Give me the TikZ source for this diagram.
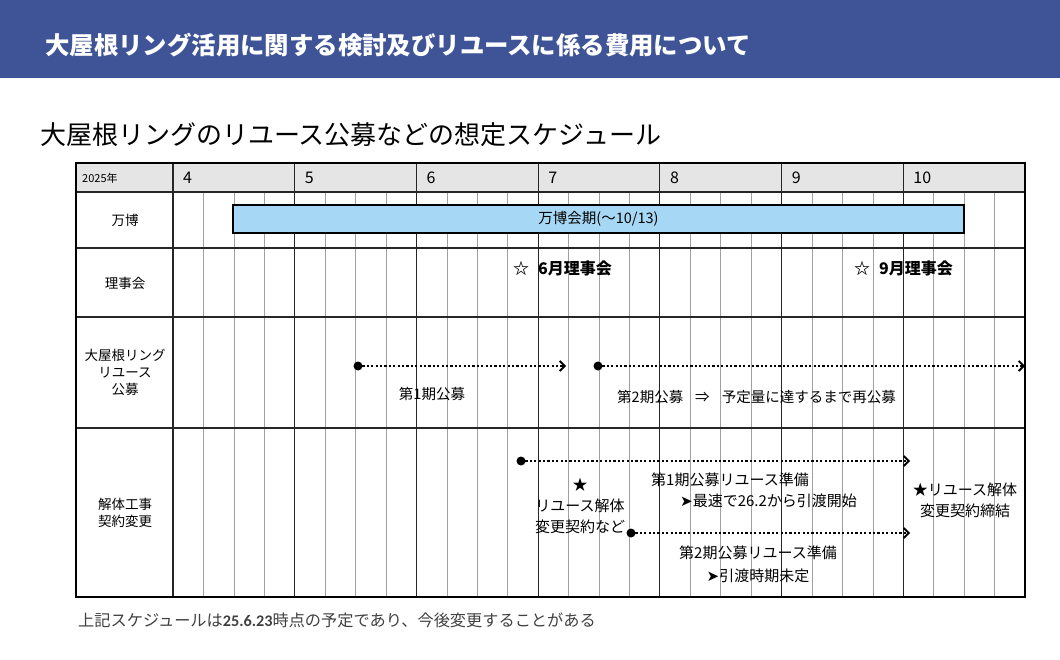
\documentclass[tikz,border=0pt]{standalone}
\usepackage{fontspec}
\setmainfont{Noto Sans CJK JP}
\newfontfamily\symfont{DejaVu Sans}
\newfontfamily\numfont{Carlito}
\definecolor{expoheadblue}{RGB}{63,84,151}
\definecolor{expobarblue}{RGB}{166,216,245}
\definecolor{expogrid}{RGB}{160,160,160}
\definecolor{expohead}{RGB}{229,229,229}
\usetikzlibrary{arrows.meta,positioning}

\begin{document}
\begin{tikzpicture}[x=1pt, y=-1pt,
    every node/.style={font=\fontsize{14.5}{20}\selectfont, inner sep=0pt},
    rowlabel/.style={align=center, font=\fontsize{13.5}{17}\selectfont},
    monthlabel/.style={anchor=west, font=\fontsize{16}{18}\selectfont},
    weekline/.style={expogrid, line width=0.6pt},
    monthline/.style={black!85, line width=1.1pt},
    plan/.style={line width=1.8pt, dash pattern=on 2.2pt off 2.2pt,
        -{Straight Barb[length=5pt,width=10pt,line width=1.8pt]}},
    startdot/.style={circle, fill=black, minimum size=9pt},
    council/.style={anchor=west, font=\bfseries\fontsize{16}{18}\selectfont},
    note/.style={align=center, font=\fontsize{15}{21}\selectfont}]
    \useasboundingbox (0,0) rectangle (1060,660);

    % heading
    \fill[expoheadblue] (0,0) rectangle (1060,78);
    \node[anchor=west, text=white, font=\bfseries\fontsize{24.4}{28}\selectfont] (title) at (45,45)
        {大屋根リング活用に関する検討及びリユースに係る費用について};
    \node[anchor=west, font=\fontsize{26}{30}\selectfont] (subtitle) at (40,135)
        {大屋根リングのリユース公募などの想定スケジュール};

    % grid
    \fill[expohead] (76,163) rectangle (1025,192);
    \foreach \m in {0,...,6}
        \foreach \w in {1,2,3}
            \draw[weekline] ({173+(4*\m+\w)*30.43},192) -- ++(0,405);
    \foreach \y in {192,248,317,428}
        \draw[monthline] (76,\y) -- (1025,\y);
    \foreach \m [count=\i from 0] in {4,...,10} {
        \draw[monthline] ({173+\i*121.71},163) -- ({173+\i*121.71},597);
        \node[monthlabel] (m\m) at ({183+\i*121.71},178) {\m};
    }
    \draw[line width=1.6pt] (76,163) rectangle (1025,597);
    \node[anchor=west, font=\fontsize{11}{12}\selectfont] (year) at (82,178) {2025年};

    % row labels
    \node[rowlabel] (expo) at (125,220) {万博};
    \node[rowlabel] (board) at (125,283) {理事会};
    \node[rowlabel] (call) at (125,372) {大屋根リング\\リユース\\公募};
    \node[rowlabel] (works) at (125,513) {解体工事\\契約変更};

    % expo period
    \node[draw, line width=1.5pt, fill=expobarblue, minimum width=731pt, minimum height=28pt]
        (expobar) at (598.5,219) {万博会期(～10/13)};

    % board meetings
    \node[council] (june) at (513,268) {☆\hspace{9pt}6月理事会};
    \node[council] (sept) at (854,268) {☆\hspace{9pt}9月理事会};

    % calls
    \node[startdot] (c1s) at (358,366) {};
    \coordinate (c1e) at (566,366);
    \draw[plan] (c1s.center) -- (c1e);
    \node (c1) at (432,394) {第1期公募};
    \node[startdot] (c2s) at (598,366) {};
    \coordinate (c2e) at (1025,366);
    \draw[plan] (c2s.center) -- (c2e);
    \node[anchor=west] (c2) at (617,397) {第2期公募\hspace{12pt}⇒\hspace{12pt}予定量に達するまで再公募};

    % demolition contract
    \node[startdot] (p1s) at (521,461) {};
    \coordinate (p1e) at (910,461);
    \draw[plan] (p1s.center) -- (p1e);
    \node[startdot] (p2s) at (631,533) {};
    \coordinate (p2e) at (910,533);
    \draw[plan] (p2s.center) -- (p2e);
    \node[note] (change) at (580,506) {★\\リユース解体\\変更契約など};
    \node[note, anchor=west] (p1a) at (651,480) {第1期公募リユース準備};
    \node[note, anchor=west] (p1b) at (680,501) {{\symfont ➤}最速で26.2から引渡開始};
    \node[note] (sign) at (965,500) {★リユース解体\\変更契約締結};
    \node[note, font=\fontsize{15}{23}\selectfont] (p2) at (758,564)
        {第2期公募リユース準備\\{\symfont ➤}引渡時期未定};

    % footnote
    \node[anchor=west, text=black!75, font=\fontsize{16.2}{18}\selectfont] (foot) at (78,620)
        {上記スケジュールは{\numfont\bfseries 25.6.23}時点の予定であり、今後変更することがある};
\end{tikzpicture}
\end{document}
